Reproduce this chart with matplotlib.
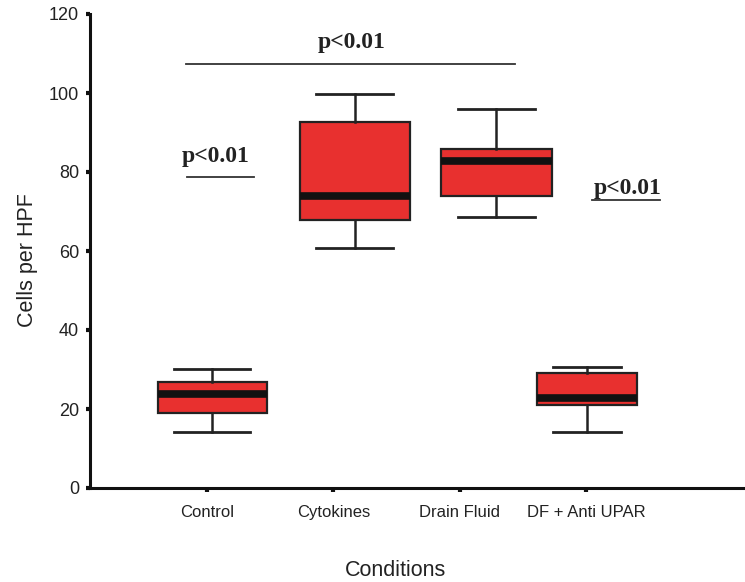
import numpy as np
import matplotlib.pyplot as plt

# data
conditions = ["Control", "Cytokines", "Drain Fluid", "DF + Anti UPAR"]
whisker_low = [14.2, 60.8, 68.6, 14.2]
q1 = [19.0, 67.8, 73.9, 21.0]
median = [23.8, 73.9, 82.8, 22.7]
q3 = [26.8, 92.7, 85.8, 29.1]
whisker_high = [30.1, 99.7, 96.0, 30.6]

# layout of the boxes (they sit a bit off the ticks in the original)
box_pos = [1.04, 2.17, 3.29, 4.01]
box_w = [0.86, 0.87, 0.88, 0.79]
cap_w = [0.60, 0.61, 0.61, 0.54]

RED = "#e8302f"
DARK = "#222222"

stats = []
for i in range(len(conditions)):
    stats.append(dict(whislo=whisker_low[i], q1=q1[i], med=median[i],
                      q3=q3[i], whishi=whisker_high[i], fliers=[]))

fig = plt.figure(figsize=(7.45, 5.82), dpi=100)
ax = fig.add_axes([90 / 745, 94 / 582, 655 / 745, 474 / 582])

ax.bxp(stats, positions=box_pos, widths=box_w, capwidths=cap_w,
       patch_artist=True, showfliers=False,
       boxprops=dict(facecolor=RED, edgecolor=DARK, linewidth=1.6),
       medianprops=dict(color="#111111", linewidth=5.5, solid_capstyle="butt"),
       whiskerprops=dict(color=DARK, linewidth=1.8),
       capprops=dict(color=DARK, linewidth=2.0))

ax.set_xlim(0.071, 5.26)
ax.set_ylim(0, 120)
ax.set_xticks([1, 2, 3, 4])
ax.set_xticklabels(conditions, fontsize=12, color=DARK, family="Liberation Sans")
ax.set_yticks(np.arange(0, 121, 20))
ax.set_yticklabels([str(v) for v in range(0, 121, 20)], fontsize=13,
                   color=DARK, family="Liberation Sans")
ax.tick_params(axis="x", length=3, width=3, pad=9, color="#111111")
ax.tick_params(axis="y", length=3, width=3, pad=5, color="#111111")

for s in ["top", "right"]:
    ax.spines[s].set_visible(False)
for s in ["left", "bottom"]:
    ax.spines[s].set_linewidth(2.2)
    ax.spines[s].set_color("#111111")

ax.set_ylabel("Cells per HPF", fontsize=15.5, color=DARK, family="Liberation Sans")
ax.yaxis.set_label_coords(-0.08, 0.48)
ax.set_xlabel("Conditions", fontsize=15.5, color=DARK, family="Liberation Sans")
ax.xaxis.set_label_coords(0.467, -0.173)
ax.xaxis.label.set_va("center")

# significance marks
pfont = dict(fontsize=17, fontweight="bold", family="Liberation Serif",
             color=DARK, ha="center", va="center")
ax.plot([0.83, 3.44], [107.3, 107.3], color="#333333", lw=1.3, clip_on=False)
ax.text(2.14, 112.9, "p<0.01", **pfont)
ax.plot([0.84, 1.37], [78.7, 78.7], color="#333333", lw=1.3)
ax.text(1.07, 83.8, "p<0.01", **pfont)
ax.plot([4.05, 4.59], [72.9, 72.9], color="#333333", lw=1.3)
ax.text(4.33, 75.9, "p<0.01", **pfont)

fig.savefig("out.png", dpi=100)
